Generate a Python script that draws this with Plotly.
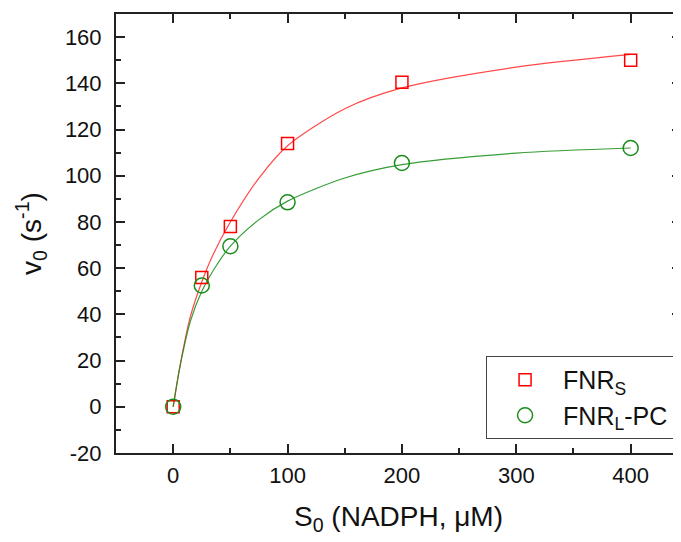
import plotly.graph_objects as go

# Measured data
s0 = [0, 25, 50, 100, 200, 400]
v_fnrs = [0, 56, 78, 114, 140.5, 150]
v_fnrl = [0, 52.5, 69.5, 88.5, 105.5, 112]

# Fitted curves
fit_s = [0, 5, 10, 15, 25, 35, 50, 75, 100, 150, 200, 300, 400]
fit_fnrs = [0, 15, 28, 39, 54, 66, 80, 99, 113, 129, 138, 147, 152.5]
fit_fnrl = [0, 15, 27, 37, 50, 59, 69.5, 81, 89, 99, 104.8, 109.8, 112]

x_ticks = [0, 100, 200, 300, 400]
y_ticks = [-20, 0, 20, 40, 60, 80, 100, 120, 140, 160]

RED = "#ff0000"
GREEN = "#1a8c1a"
AX = "#222222"
FONT = "Liberation Sans, Arial, sans-serif"

fig = go.Figure()
fig.add_trace(go.Scatter(x=fit_s, y=fit_fnrs, mode="lines", line=dict(color="rgba(255,40,40,0.85)", width=1.2, shape="spline", smoothing=0.8),
                         showlegend=False, hoverinfo="skip"))
fig.add_trace(go.Scatter(x=fit_s, y=fit_fnrl, mode="lines", line=dict(color="rgba(20,140,20,0.85)", width=1.2, shape="spline", smoothing=0.8),
                         showlegend=False, hoverinfo="skip"))
fig.add_trace(go.Scatter(x=s0, y=v_fnrs, mode="markers", name="FNR<sub>S</sub>",
                         marker=dict(symbol="square-open", size=12, color=RED, line=dict(width=1.5, color=RED))))
fig.add_trace(go.Scatter(x=s0, y=v_fnrl, mode="markers", name="FNR<sub>L</sub>-PC",
                         marker=dict(symbol="circle-open", size=15, color=GREEN, line=dict(width=1.5, color=GREEN))))

axis_common = dict(
    showline=True, linewidth=2, linecolor=AX, mirror="ticks",
    ticks="inside", ticklen=9, tickwidth=2, tickcolor=AX,
    showgrid=False, zeroline=False, automargin=False,
    tickfont=dict(family=FONT, size=22, color="#111111"),
)

# the page body adds an 8px margin, so the figure is sized to fit the window
fig.update_layout(
    width=673, height=534,
    margin=dict(l=108, r=0, t=6, b=89),
    paper_bgcolor="white", plot_bgcolor="white",
    font=dict(family=FONT, color="#111111"),
    xaxis=dict(range=[-50, 444], tickvals=x_ticks, ticktext=[str(v) for v in x_ticks],
               minor=dict(dtick=50, ticks="inside", ticklen=5, tickwidth=2, tickcolor=AX),
               ticklabelstandoff=2,
               title=dict(text="S<sub>0</sub> (NADPH, μM)", font=dict(family=FONT, size=28), standoff=19),
               **axis_common),
    yaxis=dict(range=[-20, 170], tickvals=y_ticks, ticktext=[str(v) for v in y_ticks],
               minor=dict(dtick=10, ticks="inside", ticklen=5, tickwidth=2, tickcolor=AX),
               ticklabelstandoff=8,
               title=dict(text="v<sub>0</sub> (s<sup>-1</sup>)", font=dict(family=FONT, size=28), standoff=15),
               **axis_common),
    legend=dict(x=0.655, y=0.221, xanchor="left", yanchor="top",
                bgcolor="white", bordercolor="#444444", borderwidth=1,
                font=dict(family=FONT, size=25, color="#111111"),
                itemwidth=66, entrywidth=119, entrywidthmode="pixels"),
)

fig.write_html("out.html")
